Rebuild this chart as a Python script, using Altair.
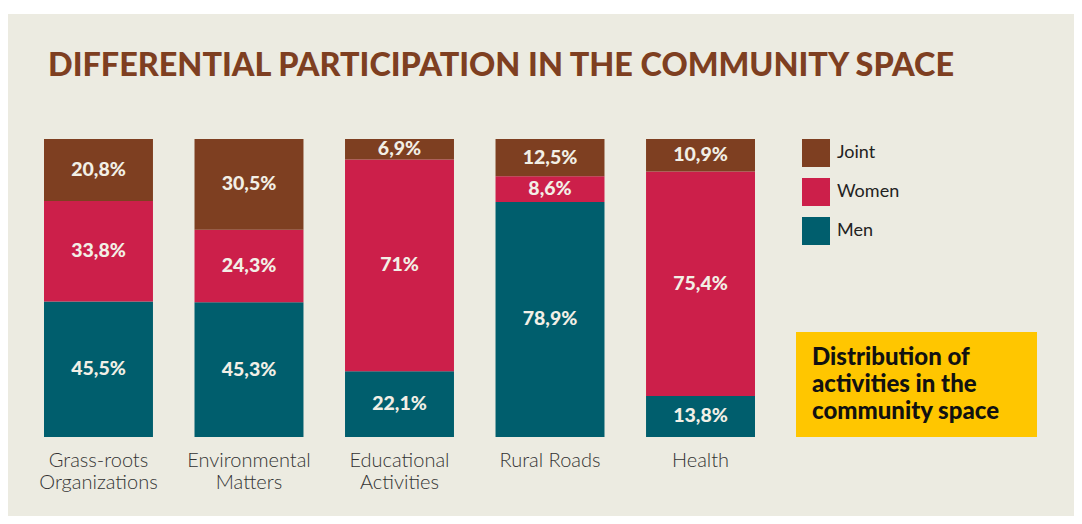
import altair as alt
import pandas as pd

# ---- data ----
categories = ["Grass-roots\nOrganizations", "Environmental\nMatters", "Educational\nActivities", "Rural Roads", "Health"]
series = ["Men", "Women", "Joint"]
men = [45.5, 45.3, 22.1, 78.9, 13.8]
women = [33.8, 24.3, 71, 8.6, 75.4]
joint = [20.8, 30.5, 6.9, 12.5, 10.9]

title_text = "DIFFERENTIAL PARTICIPATION IN THE COMMUNITY SPACE"
box_text = "Distribution of\nactivities in the\ncommunity space"

BROWN = "#7e3f21"
RED = "#cc1f4a"
TEAL = "#005e6d"
BEIGE = "#ecebe1"
YELLOW = "#ffc600"

rows = []
for i, c in enumerate(categories):
    for s, vals in zip(series, [men, women, joint]):
        v = vals[i]
        lab = (f"{v:g}".replace(".", ",")) + "%"
        rows.append({"cat": c, "series": s, "value": v, "order": series.index(s), "label": lab})
df = pd.DataFrame(rows)

W, H = 1066, 502

xscale = alt.Scale(domain=categories, range=[36, 747], paddingInner=0.276, paddingOuter=0)
yscale = alt.Scale(domain=[0, 1], range=[423, 125])

base = alt.Chart(df).transform_stack(
    stack="value", groupby=["cat"], as_=["v0", "v1"], offset="normalize",
    sort=[alt.SortField("order", order="ascending")]
).transform_calculate(mid="(datum.v0 + datum.v1) / 2")

bars = base.mark_bar().encode(
    x=alt.X("cat:N", sort=categories, scale=xscale, axis=None),
    y=alt.Y("v0:Q", scale=yscale, axis=None),
    y2="v1:Q",
    color=alt.Color(
        "series:N",
        scale=alt.Scale(domain=["Joint", "Women", "Men"], range=[BROWN, RED, TEAL]),
        legend=alt.Legend(
            title=None, orient="none", legendX=794, legendY=125,
            symbolType="square", symbolSize=784, symbolStrokeWidth=0,
            labelFontSize=18, labelFont="Lato", labelColor="#222222",
            labelOffset=7, rowPadding=11, padding=0,
        ),
    ),
)

vals = base.mark_text(font="Lato", fontWeight=900, fontSize=19.5, color="#f2efe6", baseline="middle").encode(
    x=alt.X("cat:N", sort=categories, scale=xscale, axis=None),
    y=alt.Y("mid:Q", scale=yscale, axis=None),
    text="label:N",
)

xlabels = alt.Chart(pd.DataFrame({"cat": categories})).mark_text(
    font="Lato", fontWeight=300, fontSize=20, color="#333333",
    baseline="alphabetic", lineBreak="\n", lineHeight=22,
).encode(
    x=alt.X("cat:N", sort=categories, scale=xscale, axis=None),
    y=alt.value(453),
    text="cat:N",
)

title = alt.Chart(pd.DataFrame({"t": [title_text]})).mark_text(
    font="Lato", fontWeight=900, fontSize=32.4, color=BROWN, align="left", baseline="alphabetic",
).encode(x=alt.value(40), y=alt.value(62), text="t:N")

box = alt.Chart(pd.DataFrame({"t": [box_text]})).mark_rect(color=YELLOW).encode(
    x=alt.value(788), x2=alt.value(1029), y=alt.value(318), y2=alt.value(423)
)
box_txt = alt.Chart(pd.DataFrame({"t": [box_text]})).mark_text(
    font="Lato", fontWeight=900, fontSize=24, color="#111111", align="left",
    baseline="alphabetic", lineBreak="\n", lineHeight=27,
).encode(x=alt.value(804), y=alt.value(351), text="t:N")

chart = alt.layer(bars, vals, xlabels, title, box, box_txt).properties(
    width=W, height=H,
    autosize=alt.AutoSizeParams(type="none"),
    padding={"top": 6, "left": 0, "right": 0, "bottom": 0},
    background="white",
).configure_view(fill=BEIGE, stroke=None)

chart.save("out.html", embed_options={"renderer": "svg", "actions": False})
